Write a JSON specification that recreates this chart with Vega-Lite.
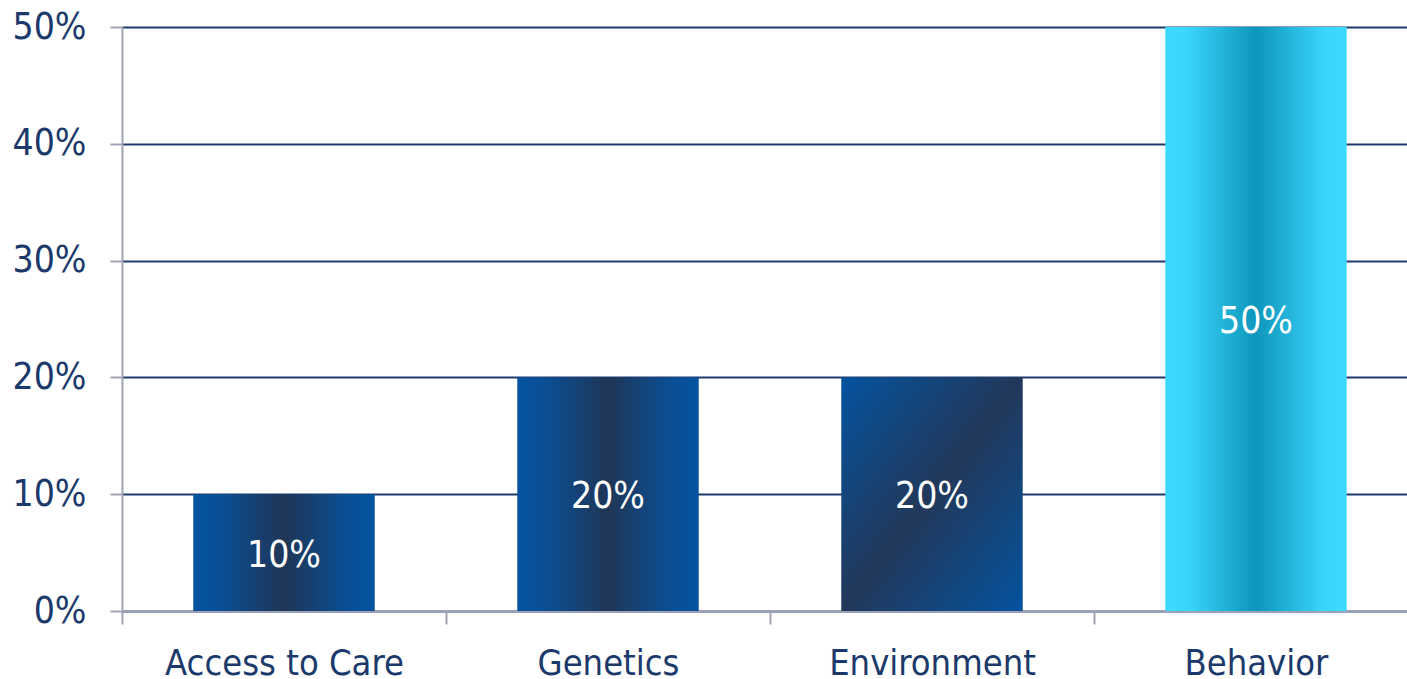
{
  "$schema": "https://vega.github.io/schema/vega-lite/v6.json",
  "width": 1285,
  "height": 584,
  "autosize": "none",
  "padding": {"left": 122, "top": 27, "right": 0, "bottom": 68},
  "background": "white",
  "config": {
    "view": {"stroke": null},
    "font": "DejaVu Sans Condensed, Liberation Sans Narrow, sans-serif"
  },
  "data": {
    "values": [
      {"category": "Access to Care", "value": 0.1},
      {"category": "Genetics", "value": 0.2},
      {"category": "Environment", "value": 0.2},
      {"category": "Behavior", "value": 0.5}
    ]
  },
  "transform": [{"calculate": "datum.value / 2", "as": "mid"}],
  "encoding": {
    "x": {
      "field": "category",
      "type": "nominal",
      "sort": ["Access to Care", "Genetics", "Environment", "Behavior"],
      "scale": {"range": [0, 1296], "paddingInner": 0, "paddingOuter": 0},
      "axis": {
        "title": null,
        "labelAngle": 0,
        "labelFontSize": 36,
        "labelLimit": 0,
        "labelColor": "#1B3A6B",
        "labelPadding": 22,
        "tickBand": "extent",
        "tickSize": 13,
        "tickColor": "#A0A3B5",
        "tickWidth": 2,
        "domainColor": "#A0A3B5",
        "domainWidth": 2,
        "grid": false
      }
    }
  },
  "layer": [
    {
      "transform": [{"filter": "datum.category === 'Access to Care' || datum.category === 'Genetics'"}],
      "mark": {
        "type": "bar",
        "width": {"band": 0.56},
        "color": {
          "gradient": "linear", "x1": 0, "y1": 0, "x2": 1, "y2": 0,
          "stops": [
            {"offset": 0, "color": "#04539F"},
            {"offset": 0.15, "color": "#0A4F96"},
            {"offset": 0.5, "color": "#1F3656"},
            {"offset": 0.85, "color": "#0A4F96"},
            {"offset": 1, "color": "#04539F"}
          ]
        }
      },
      "encoding": {
        "y": {
          "field": "value",
          "type": "quantitative",
          "scale": {"domain": [0, 0.5], "nice": false},
          "axis": {
            "title": null,
            "values": [0, 0.1, 0.2, 0.3, 0.4, 0.5],
            "format": ".0%",
            "labelFontSize": 37,
            "labelColor": "#1B3A6B",
            "labelPadding": 24,
            "tickSize": 12,
            "tickColor": "#A0A3B5",
            "tickWidth": 2,
            "domainColor": "#A0A3B5",
            "domainWidth": 2,
            "grid": true,
            "gridColor": "#1F3B6E",
            "gridWidth": 2
          }
        }
      }
    },
    {
      "transform": [{"filter": "datum.category === 'Environment'"}],
      "mark": {
        "type": "bar",
        "width": {"band": 0.56},
        "color": {
          "gradient": "linear", "x1": 0, "y1": 0, "x2": 1, "y2": 1,
          "stops": [
            {"offset": 0, "color": "#04539F"},
            {"offset": 0.5, "color": "#22385A"},
            {"offset": 1, "color": "#04539F"}
          ]
        }
      },
      "encoding": {"y": {"field": "value", "type": "quantitative"}}
    },
    {
      "transform": [{"filter": "datum.category === 'Behavior'"}],
      "mark": {
        "type": "bar",
        "width": {"band": 0.56},
        "color": {
          "gradient": "linear", "x1": 0, "y1": 0, "x2": 1, "y2": 0,
          "stops": [
            {"offset": 0, "color": "#3DDAFF"},
            {"offset": 0.12, "color": "#3BD5FB"},
            {"offset": 0.5, "color": "#0E96BB"},
            {"offset": 0.88, "color": "#3BD5FB"},
            {"offset": 1, "color": "#3DDAFF"}
          ]
        }
      },
      "encoding": {"y": {"field": "value", "type": "quantitative"}}
    },
    {
      "mark": {"type": "text", "color": "white", "fontSize": 37, "baseline": "middle", "align": "center", "dy": 3},
      "encoding": {
        "y": {"field": "mid", "type": "quantitative"},
        "text": {"field": "value", "type": "quantitative", "format": ".0%"}
      }
    }
  ]
}
